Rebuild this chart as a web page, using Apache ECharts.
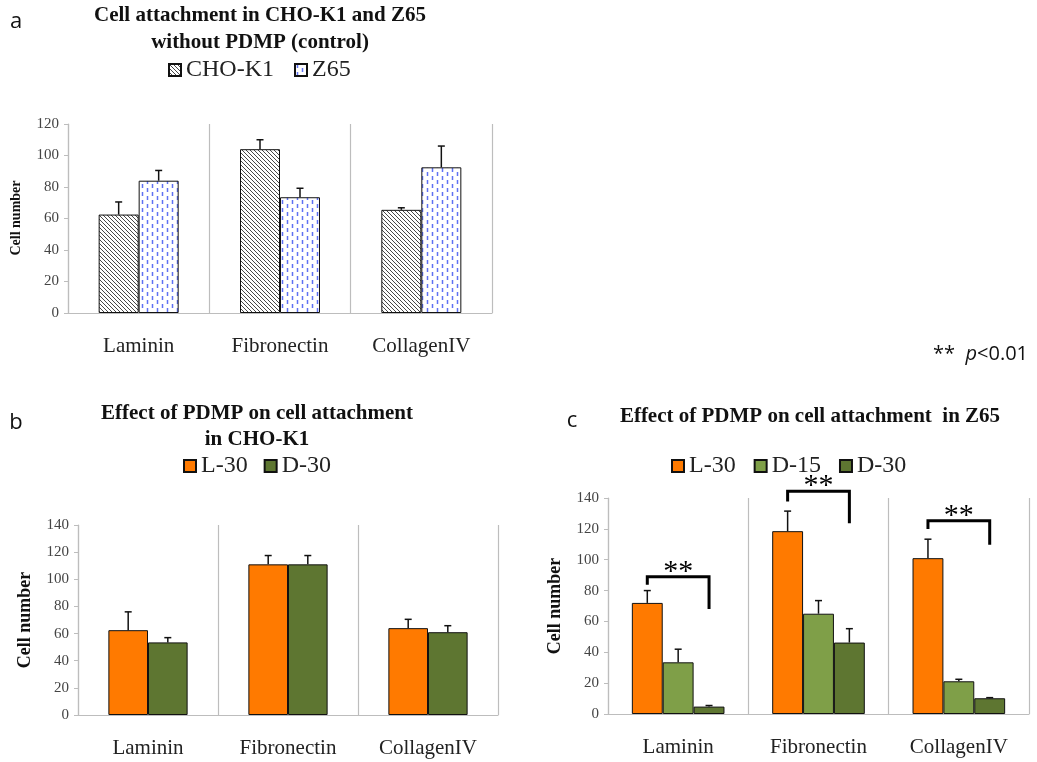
<!DOCTYPE html>
<html>
<head>
<meta charset="utf-8">
<script src="https://cdn.jsdelivr.net/npm/echarts@6/dist/echarts.min.js"></script>
<style>
html,body{margin:0;padding:0;background:#fff;}
#chart{width:1037px;height:762px;}
</style>
</head>
<body>
<div id="chart"></div>
<script>
// ---------- data ----------
const categories = ['Laminin', 'Fibronectin', 'CollagenIV'];

// panel a (control)
const aChoK1 = [62.5, 104, 65.5];
const aChoK1Err = [8, 6, 1.3];
const aZ65 = [84, 73.5, 92.5];
const aZ65Err = [6.5, 5.7, 13.5];

// panel b (CHO-K1)
const bL30 = [62.5, 111, 64];
const bL30Err = [13.5, 6.5, 6.5];
const bD30 = [53.5, 111, 61];
const bD30Err = [3.5, 6.5, 4.8];

// panel c (Z65)
const cL30 = [72, 118.5, 101];
const cL30Err = [8, 13, 12.3];
const cD15 = [33.5, 65, 21.2];
const cD15Err = [8.5, 8.5, 1.3];
const cD30 = [4.8, 46.3, 10.2];
const cD30Err = [0.7, 9, 0.4];

// significance brackets in panel c: [category, left drop, top, right drop]
const cBrackets = [[0, 83.7, 89, 68], [1, 137.8, 144.3, 123.7], [2, 119.9, 125.2, 109.7]];

// ---------- styles ----------
const SERIF = '"Liberation Serif", "DejaVu Serif", serif';
const SANS = '"Open Sans", "Liberation Sans", sans-serif';
const ORANGE = '#FF7A00', LGREEN = '#7F9F48', DGREEN = '#5E7631';

function hatchPattern() {
  const c = document.createElement('canvas');
  c.width = 4; c.height = 4;
  const g = c.getContext('2d');
  g.fillStyle = '#fff'; g.fillRect(0, 0, 4, 4);
  g.strokeStyle = '#333'; g.lineWidth = 0.9;
  g.beginPath();
  g.moveTo(-1, -1); g.lineTo(5, 5);
  g.moveTo(-1, 3); g.lineTo(1, 5);
  g.moveTo(3, -1); g.lineTo(5, 1);
  g.stroke();
  return c;
}
function dashPattern() {
  const c = document.createElement('canvas');
  c.width = 10; c.height = 8;
  const g = c.getContext('2d');
  g.fillStyle = '#fff'; g.fillRect(0, 0, 10, 8);
  g.strokeStyle = '#5f72f2'; g.lineWidth = 1.5;
  g.beginPath();
  g.moveTo(2.5, 0); g.lineTo(2.5, 4);
  g.moveTo(7.5, 4); g.lineTo(7.5, 8);
  g.stroke();
  return c;
}

function bar(name, data, color, xi, width) {
  return {
    name: name, type: 'bar', xAxisIndex: xi, yAxisIndex: xi, data: data,
    barWidth: width, barGap: '0%',
    itemStyle: { color: color, borderColor: '#111', borderWidth: 1 },
    emphasis: { disabled: true }, z: 2
  };
}
function errSeries(vals, errs, xi, n, idx, wFrac) {
  return {
    type: 'custom', xAxisIndex: xi, yAxisIndex: xi, z: 5, silent: true,
    data: vals.map((v, i) => [i, v, errs[i]]),
    encode: { x: 0, y: 1 },
    renderItem: function (params, api) {
      const cat = api.value(0), v = api.value(1), e = api.value(2);
      const cw = api.size([1, 0])[0];
      const off = (-n * wFrac / 2 + wFrac * (idx + 0.5)) * cw;
      const p0 = api.coord([cat, v]);
      const p1 = api.coord([cat, v + e]);
      const x = p0[0] + off;
      const st = { stroke: '#111', lineWidth: 1.5 };
      return {
        type: 'group', children: [
          { type: 'line', shape: { x1: x, y1: p0[1], x2: x, y2: p1[1] }, style: st },
          { type: 'line', shape: { x1: x - 3.5, y1: p1[1], x2: x + 3.5, y2: p1[1] }, style: st }
        ]
      };
    }
  };
}
function bracketSeries(data, xi, wFrac) {
  return {
    type: 'custom', xAxisIndex: xi, yAxisIndex: xi, z: 6, silent: true,
    data: data, encode: { x: 0, y: 2 },
    renderItem: function (params, api) {
      const cat = api.value(0);
      const cw = api.size([1, 0])[0];
      const cx = api.coord([cat, 0])[0];
      const xl = cx - wFrac * cw, xr = cx + wFrac * cw;
      const yl = api.coord([cat, api.value(1)])[1];
      const yt = api.coord([cat, api.value(2)])[1];
      const yr = api.coord([cat, api.value(3)])[1];
      return {
        type: 'group', children: [
          { type: 'polyline', shape: { points: [[xl, yl], [xl, yt], [xr, yt], [xr, yr]] },
            style: { stroke: '#000', lineWidth: 3, fill: null } },
          { type: 'text', x: (xl + xr) / 2, y: yt - 5,
            style: { text: '**', font: '30px ' + SERIF, fill: '#000', align: 'center', verticalAlign: 'middle' } }
        ]
      };
    }
  };
}

function xAx(gi) {
  return {
    type: 'category', gridIndex: gi, data: categories,
    axisLine: { show: true, lineStyle: { color: '#bdbdbd', width: 1.2 } },
    axisTick: { show: false },
    splitLine: { show: true, interval: 0, lineStyle: { color: '#bdbdbd', width: 1.2 } },
    axisLabel: { fontFamily: SERIF, fontSize: 21, color: '#222', margin: 23, interval: 0 }
  };
}
function yAx(gi, max) {
  return {
    type: 'value', gridIndex: gi, min: 0, max: max, interval: 20,
    axisLine: { show: true, lineStyle: { color: '#bdbdbd', width: 1.2 } },
    axisTick: { show: true, length: 4, lineStyle: { color: '#bdbdbd' } },
    splitLine: { show: false },
    axisLabel: { fontFamily: SERIF, fontSize: 15, color: '#444', margin: 9 }
  };
}

const legendText = { fontFamily: SERIF, fontSize: 24, color: '#222', lineHeight: 24 };
const legendBase = { icon: 'rect', itemWidth: 12, itemHeight: 12, padding: 0, selectedMode: false, textStyle: legendText };

function txt(text, x, y, font, opts) {
  return {
    type: 'text', x: x, y: y,
    style: Object.assign({ text: text, font: font, fill: '#111', textAlign: 'center', textVerticalAlign: 'middle' }, opts || {})
  };
}
function vtxt(text, x, y, font) {
  return { type: 'text', x: x, y: y, rotation: Math.PI / 2,
    style: { text: text, font: font, fill: '#111', textAlign: 'center', textVerticalAlign: 'middle' } };
}

const chart = echarts.init(document.getElementById('chart'), null, { renderer: 'canvas' });
chart.setOption({
  backgroundColor: '#fff',
  animation: false,
  grid: [
    { left: 68, top: 124, width: 424, height: 189 },
    { left: 78, top: 525, width: 420, height: 190 },
    { left: 608, top: 498, width: 421, height: 216 }
  ],
  xAxis: [xAx(0), xAx(1), xAx(2)],
  yAxis: [yAx(0, 120), yAx(1, 140), yAx(2, 140)],
  legend: [
    Object.assign({ data: ['CHO-K1', 'Z65'], left: 168, top: 58, itemGap: 20 }, legendBase),
    Object.assign({ data: ['L-30', 'D-30'], left: 183, top: 454, itemGap: 16 }, legendBase),
    Object.assign({ data: ['L-30', 'D-15', 'D-30'], left: 671, top: 454, itemGap: 18 }, legendBase)
  ],
  series: [
    bar('CHO-K1', aChoK1, { image: hatchPattern(), repeat: 'repeat' }, 0, '28.3%'),
    bar('Z65', aZ65, { image: dashPattern(), repeat: 'repeat' }, 0, '28.3%'),
    errSeries(aChoK1, aChoK1Err, 0, 2, 0, 0.283),
    errSeries(aZ65, aZ65Err, 0, 2, 1, 0.283),

    bar('L-30', bL30, ORANGE, 1, '28.3%'),
    bar('D-30', bD30, DGREEN, 1, '28.3%'),
    errSeries(bL30, bL30Err, 1, 2, 0, 0.283),
    errSeries(bD30, bD30Err, 1, 2, 1, 0.283),

    bar('L-30', cL30, ORANGE, 2, '22%'),
    bar('D-15', cD15, LGREEN, 2, '22%'),
    bar('D-30', cD30, DGREEN, 2, '22%'),
    errSeries(cL30, cL30Err, 2, 3, 0, 0.22),
    errSeries(cD15, cD15Err, 2, 3, 1, 0.22),
    errSeries(cD30, cD30Err, 2, 3, 2, 0.22),
    bracketSeries(cBrackets, 2, 0.22)
  ],
  graphic: [
    txt('a', 16, 22, '22px ' + SANS),
    txt('Cell attachment in CHO-K1 and Z65', 260, 16, 'bold 21px ' + SERIF),
    txt('without PDMP (control)', 260, 43, 'bold 21px ' + SERIF),
    vtxt('Cell number', 16, 218, 'bold 14px ' + SERIF),

    txt('b', 16, 423, '22px ' + SANS),
    txt('Effect of PDMP on cell attachment', 257, 414, 'bold 21px ' + SERIF),
    txt('in CHO-K1', 257, 440, 'bold 21px ' + SERIF),
    vtxt('Cell number', 25, 620, 'bold 18px ' + SERIF),

    txt('c', 572, 421, '22px ' + SANS),
    txt('Effect of PDMP on cell attachment  in Z65', 810, 417, 'bold 21px ' + SERIF),
    vtxt('Cell number', 555, 606, 'bold 18px ' + SERIF),

    {
      type: 'text', x: 1028, y: 354,
      style: {
        text: '{s|**  }{p|p}{s|<0.01}',
        textAlign: 'right', textVerticalAlign: 'middle',
        rich: {
          s: { font: '20px ' + SANS, fill: '#111' },
          p: { font: 'italic 20px ' + SANS, fill: '#111' }
        }
      }
    }
  ]
});
</script>
</body>
</html>
